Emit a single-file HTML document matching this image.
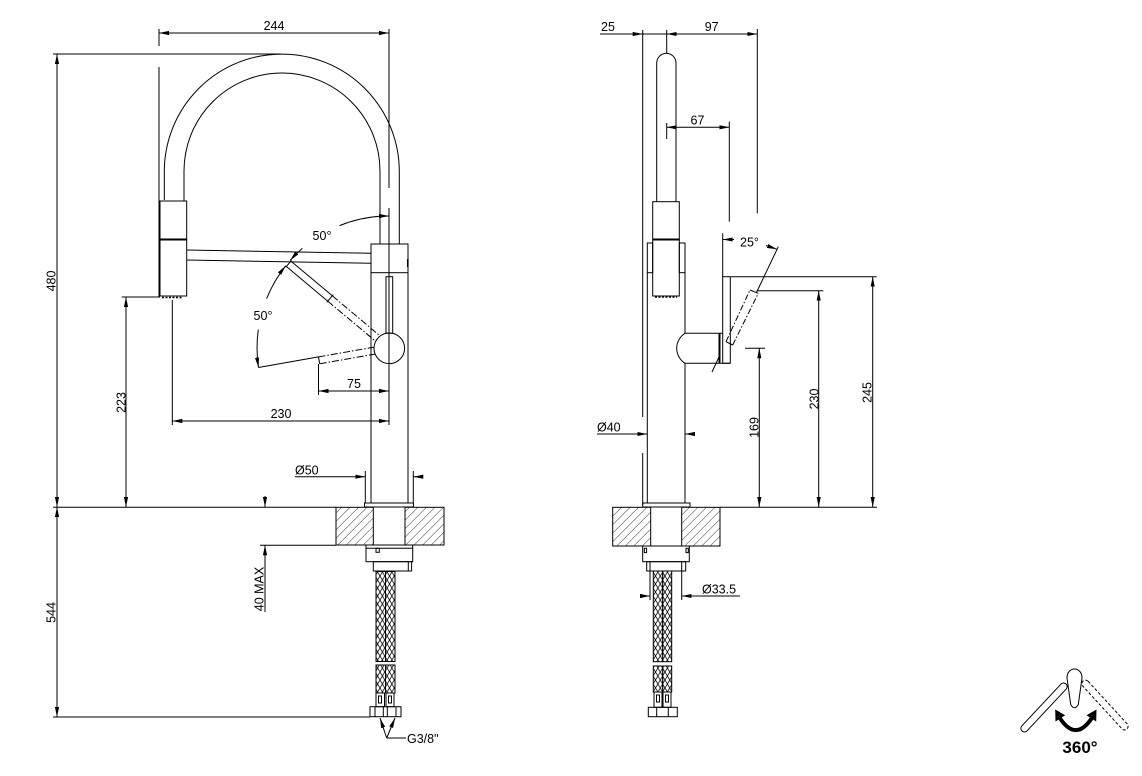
<!DOCTYPE html>
<html><head><meta charset="utf-8"><style>
html,body{margin:0;padding:0;background:#fff;}
svg{display:block}
text{font-family:"Liberation Sans",Arial,sans-serif;font-size:12.5px;fill:#000;stroke:none}
</style></head><body>
<svg width="1142" height="776" viewBox="0 0 1142 776" xmlns="http://www.w3.org/2000/svg">
<defs>
<marker id="a" markerUnits="userSpaceOnUse" markerWidth="11" markerHeight="5" refX="10" refY="2.5" orient="auto-start-reverse"><path d="M0,0.4 L10,2.5 L0,4.6 z" fill="#000" stroke="none"/></marker>
<pattern id="h" width="6" height="6" patternUnits="userSpaceOnUse" patternTransform="rotate(45)"><line x1="0" y1="0" x2="0" y2="6" stroke="#000" stroke-width="0.8"/></pattern>
<pattern id="x" width="4.75" height="8" patternUnits="userSpaceOnUse"><path d="M0,0 L4.75,8 M4.75,0 L0,8" stroke="#000" stroke-width="0.8" fill="none"/></pattern>
</defs>
<rect width="1142" height="776" fill="#fff"/>
<g stroke="#000" stroke-width="1" fill="none">
<!-- ===== LEFT VIEW ===== -->
<!-- 244 -->
<line x1="159" y1="33" x2="389" y2="33" marker-start="url(#a)" marker-end="url(#a)"/>
<line x1="159" y1="29" x2="159" y2="46"/>
<line x1="159" y1="67" x2="159" y2="297"/>
<line x1="389" y1="29" x2="389" y2="188"/>
<!-- 480 -->
<line x1="53" y1="54" x2="281" y2="54"/>
<line x1="57" y1="54" x2="57" y2="507" marker-start="url(#a)" marker-end="url(#a)"/>
<!-- arc spout -->
<path d="M164.3,200 L164.3,171.5 A117.5,117.5 0 0 1 399.3,171.5 L399.3,244"/>
<path d="M184,201 L184,171 A98,98 0 0 1 380,171 L380,244"/>
<!-- head -->
<rect x="160" y="201" width="26.7" height="38.5"/>
<rect x="160" y="240" width="26.7" height="56"/>
<line x1="160" y1="239.5" x2="186.7" y2="239.5" stroke-width="2"/>
<line x1="162" y1="297.5" x2="182" y2="297.5" stroke-width="1.5" stroke-dasharray="2 1.5"/>
<!-- horizontal arm -->
<line x1="186.7" y1="250" x2="371" y2="253.3"/>
<line x1="186.7" y1="260" x2="371" y2="263.3"/>
<!-- body -->
<rect x="371" y="244" width="37" height="28.7"/>
<line x1="371" y1="272.7" x2="371" y2="503"/>
<line x1="408" y1="272.7" x2="408" y2="503"/>
<rect x="407" y="259" width="1.6" height="8" fill="#000" stroke="none"/>
<line x1="365.3" y1="471" x2="365.3" y2="503"/>
<line x1="413.3" y1="471" x2="413.3" y2="503"/>
<rect x="364.5" y="503" width="49" height="4"/>
<rect x="386" y="276.7" width="6.7" height="56.5"/>
<line x1="389" y1="208" x2="389" y2="425"/>
<circle cx="389.3" cy="348.3" r="15.3"/>
<!-- upper lever -->
<line x1="290.9" y1="261.1" x2="332.3" y2="295.8"/>
<line x1="286.4" y1="266.5" x2="327.8" y2="301.2"/>
<line x1="332.3" y1="295.8" x2="379.8" y2="335.7" stroke-dasharray="7 2 1.5 2"/>
<line x1="327.8" y1="301.2" x2="375.3" y2="341.0" stroke-dasharray="7 2 1.5 2"/>
<line x1="291.5" y1="260.3" x2="285.8" y2="267.2"/>
<line x1="333.2" y1="294.7" x2="326.8" y2="302.3"/>
<!-- lower lever -->
<line x1="318.5" y1="356.9" x2="373.6" y2="347.2" stroke-dasharray="7 2 1.5 2"/>
<line x1="319.7" y1="363.8" x2="374.8" y2="354.1" stroke-dasharray="7 2 1.5 2"/>
<line x1="318.5" y1="356.9" x2="319.7" y2="363.8"/>
<line x1="258.4" y1="367.5" x2="318.5" y2="356.9"/>
<!-- angle arcs -->
<path d="M339.6,225.6 A132,132 0 0 1 389,216" marker-end="url(#a)"/>
<path d="M302.4,248.4 A132,132 0 0 0 290.1,260.5" marker-end="url(#a)"/>
<path d="M266.6,298.6 A132,132 0 0 1 285.7,265.8" marker-end="url(#a)"/>
<path d="M258.3,329.6 A132,132 0 0 0 258.5,367.5" marker-end="url(#a)"/>
<!-- 75 -->
<line x1="318.5" y1="364" x2="318.5" y2="395"/>
<line x1="318.5" y1="391" x2="389" y2="391" marker-start="url(#a)" marker-end="url(#a)"/>
<!-- 230 -->
<line x1="172.3" y1="300" x2="172.3" y2="425"/>
<line x1="172.3" y1="421" x2="389" y2="421" marker-start="url(#a)" marker-end="url(#a)"/>
<!-- 223 -->
<line x1="121.7" y1="297" x2="160" y2="297"/>
<line x1="126" y1="297" x2="126" y2="507" marker-start="url(#a)" marker-end="url(#a)"/>
<!-- floor -->
<line x1="53" y1="507.3" x2="336" y2="507.3"/>
<!-- Ø50 -->
<line x1="295" y1="476.7" x2="365.3" y2="476.7" marker-end="url(#a)"/>
<line x1="423" y1="476.7" x2="413.3" y2="476.7" marker-end="url(#a)"/>
<!-- 40 MAX -->
<line x1="265" y1="496" x2="265" y2="507" marker-end="url(#a)"/>
<line x1="265" y1="612" x2="265" y2="545.3" marker-end="url(#a)"/>
<line x1="260" y1="545.3" x2="336" y2="545.3"/>
<!-- 544 -->
<line x1="57" y1="507" x2="57" y2="717" marker-start="url(#a)" marker-end="url(#a)"/>
<line x1="53" y1="717" x2="370" y2="717"/>
<!-- counter -->
<rect x="336" y="507.3" width="37.3" height="37.7" fill="url(#h)"/>
<rect x="405" y="507.3" width="39" height="37.7" fill="url(#h)"/>
<line x1="373.3" y1="545" x2="405" y2="545"/>
<!-- nut -->
<rect x="366" y="545" width="46.7" height="16.7"/>
<line x1="366" y1="548.3" x2="412.7" y2="548.3"/>
<rect x="376" y="548.3" width="3.3" height="4"/>
<rect x="373.3" y="561.7" width="38.3" height="9.3"/>
<line x1="408.3" y1="562" x2="408.3" y2="571"/>
<!-- hoses -->
<rect x="376" y="571.5" width="9.5" height="90" fill="url(#x)"/>
<rect x="385.5" y="571.5" width="9.5" height="90" fill="url(#x)"/>
<rect x="376" y="665" width="9.5" height="28" fill="url(#x)"/>
<rect x="385.5" y="665" width="9.5" height="28" fill="url(#x)"/>
<rect x="376" y="693" width="8.5" height="13.7"/>
<rect x="386" y="693" width="8" height="13.7"/>
<rect x="378.5" y="696" width="3" height="7"/>
<rect x="388.5" y="696" width="3" height="7"/>
<rect x="370" y="706.7" width="31" height="10"/>
<line x1="375" y1="706.7" x2="375" y2="716.7"/>
<line x1="383.3" y1="706.7" x2="383.3" y2="716.7"/>
<line x1="387.3" y1="706.7" x2="387.3" y2="716.7"/>
<line x1="396" y1="706.7" x2="396" y2="716.7"/>
<!-- G3/8 -->
<line x1="386.7" y1="738" x2="380" y2="718" marker-end="url(#a)"/>
<line x1="386.7" y1="738" x2="395" y2="718" marker-end="url(#a)"/>
<line x1="386.7" y1="738" x2="406" y2="738"/>

<!-- ===== RIGHT VIEW ===== -->
<line x1="600" y1="34" x2="757.3" y2="34"/>
<line x1="632" y1="34" x2="642.7" y2="34" marker-end="url(#a)"/>
<line x1="677" y1="34" x2="666.7" y2="34" marker-end="url(#a)"/>
<line x1="747" y1="34" x2="757.3" y2="34" marker-end="url(#a)"/>
<line x1="642.7" y1="30" x2="642.7" y2="417"/>
<line x1="642.7" y1="453" x2="642.7" y2="505"/>
<line x1="666.7" y1="30" x2="666.7" y2="53"/>
<line x1="757.3" y1="29" x2="757.3" y2="213.3"/>
<!-- 67 -->
<line x1="666.7" y1="127.3" x2="729.3" y2="127.3" marker-start="url(#a)" marker-end="url(#a)"/>
<line x1="666.7" y1="123" x2="666.7" y2="139"/>
<line x1="729.3" y1="121.7" x2="729.3" y2="221.7"/>
<!-- spout -->
<path d="M656.7,201.7 L656.7,63 A9.65,9.65 0 0 1 676,63 L676,201.7"/>
<rect x="652.7" y="201.7" width="26.6" height="38"/>
<rect x="652.7" y="240" width="26.6" height="56"/>
<line x1="652.7" y1="239.5" x2="679.3" y2="239.5" stroke-width="2"/>
<line x1="655" y1="297" x2="677" y2="297" stroke-width="1.5" stroke-dasharray="2 1.5"/>
<rect x="647.3" y="243" width="5.4" height="29.7"/>
<rect x="679.3" y="243" width="5.7" height="29.7"/>
<line x1="647.3" y1="272.7" x2="647.3" y2="503"/>
<line x1="685" y1="272.7" x2="685" y2="333.3"/>
<line x1="685" y1="363.3" x2="685" y2="503"/>
<rect x="642.7" y="503" width="47.3" height="4"/>
<!-- Ø40 -->
<line x1="597" y1="434" x2="647.3" y2="434" marker-end="url(#a)"/>
<line x1="695" y1="434" x2="685" y2="434" marker-end="url(#a)"/>
<!-- handle -->
<path d="M722.7,333.3 L685,333.3 A17.7,17.7 0 0 0 685,363.3 L730.3,363.3" fill="#fff"/>
<line x1="719.5" y1="333.3" x2="719.5" y2="363.3" stroke-width="2"/>
<rect x="722.7" y="276.7" width="7.6" height="86.6"/>
<line x1="726" y1="341.7" x2="750" y2="290" stroke-dasharray="6 2 1.5 2"/>
<line x1="732.7" y1="345" x2="758.3" y2="293.3" stroke-dasharray="6 2 1.5 2"/>
<line x1="750" y1="290" x2="758.3" y2="293.3"/>
<line x1="726" y1="341.7" x2="732.7" y2="345"/>
<line x1="712" y1="372" x2="719" y2="357"/>
<line x1="756.7" y1="292" x2="778.3" y2="246.7"/>
<line x1="722.7" y1="233.3" x2="722.7" y2="276.7"/>
<line x1="734" y1="239.5" x2="722.7" y2="239.5" marker-end="url(#a)"/>
<line x1="766" y1="245.5" x2="777" y2="249.3" marker-end="url(#a)"/>
<!-- 245 / 230 / 169 -->
<line x1="731" y1="276.7" x2="876.7" y2="276.7"/>
<line x1="872.7" y1="276.7" x2="872.7" y2="507" marker-start="url(#a)" marker-end="url(#a)"/>
<line x1="756.7" y1="290.7" x2="823.3" y2="290.7"/>
<line x1="818.7" y1="290.7" x2="818.7" y2="507" marker-start="url(#a)" marker-end="url(#a)"/>
<line x1="745" y1="348.3" x2="765" y2="348.3"/>
<line x1="759.3" y1="348.3" x2="759.3" y2="507" marker-start="url(#a)" marker-end="url(#a)"/>
<line x1="720" y1="507.3" x2="877" y2="507.3"/>
<!-- counter -->
<rect x="612.7" y="507.3" width="38" height="38.7" fill="url(#h)"/>
<rect x="681.7" y="507.3" width="38.3" height="38.7" fill="url(#h)"/>
<line x1="650.7" y1="546" x2="681.7" y2="546"/>
<rect x="642.7" y="546" width="46.6" height="15.7"/>
<rect x="644.3" y="548.3" width="2.3" height="4.3"/>
<rect x="686" y="548.3" width="2.3" height="4.3"/>
<rect x="646.7" y="561.7" width="39" height="9.3"/>
<line x1="650" y1="561.7" x2="650" y2="571"/>
<line x1="681.7" y1="561.7" x2="681.7" y2="571"/>
<rect x="653.3" y="571" width="9.4" height="90.7" fill="url(#x)"/>
<rect x="662.7" y="571" width="9" height="90.7" fill="url(#x)"/>
<rect x="653.3" y="666" width="9.4" height="26" fill="url(#x)"/>
<rect x="662.7" y="666" width="9" height="26" fill="url(#x)"/>
<rect x="654" y="692" width="8" height="15.3"/>
<rect x="663" y="692" width="8" height="15.3"/>
<rect x="656.5" y="695" width="3" height="7"/>
<rect x="665.5" y="695" width="3" height="7"/>
<rect x="648.3" y="707.3" width="29" height="9.4"/>
<line x1="656.7" y1="707.3" x2="656.7" y2="716.7"/>
<line x1="668.3" y1="707.3" x2="668.3" y2="716.7"/>
<!-- Ø33.5 -->
<line x1="650" y1="571" x2="650" y2="600"/>
<line x1="681.7" y1="571" x2="681.7" y2="600"/>
<line x1="640" y1="596" x2="650" y2="596" marker-end="url(#a)"/>
<line x1="740" y1="596" x2="681.7" y2="596" marker-end="url(#a)"/>

<!-- ===== 360 icon ===== -->
<rect x="-32.5" y="-3.6" width="65" height="7.2" rx="3.6" transform="translate(1105,705) rotate(47.5)" stroke-dasharray="3 2"/>
<rect x="-32.2" y="-3.6" width="64.4" height="7.2" rx="3.6" fill="#fff" transform="translate(1044,707.5) rotate(-46.9)"/>
<path d="M1067,678 C1067,666 1082,666 1082,678 L1078.3,704.5 Q1074.5,711 1070.7,704.5 Z" fill="#fff"/>
<path d="M1060,718.3 Q1075.8,742 1091.7,718.3" stroke-width="4"/>
<polygon points="1055.2,709.5 1065.2,715.3 1055.5,721.5" fill="#000" stroke="none"/>
<polygon points="1096.5,709.5 1086.5,715.3 1096.2,721.5" fill="#000" stroke="none"/>
</g>

<!-- TEXT -->
<text x="274" y="30" text-anchor="middle">244</text>
<text transform="translate(55.5,281) rotate(-90)" text-anchor="middle">480</text>
<text x="322" y="240" text-anchor="middle">50°</text>
<text x="263" y="320" text-anchor="middle">50°</text>
<text x="354" y="388" text-anchor="middle">75</text>
<text x="281" y="418" text-anchor="middle">230</text>
<text transform="translate(125.5,402.5) rotate(-90)" text-anchor="middle">223</text>
<text x="295" y="474.5">Ø50</text>
<text transform="translate(263.5,589) rotate(-90)" text-anchor="middle">40 MAX</text>
<text transform="translate(55.5,612.5) rotate(-90)" text-anchor="middle">544</text>
<text x="407" y="743">G3/8"</text>
<text x="608" y="31" text-anchor="middle">25</text>
<text x="711.7" y="31" text-anchor="middle">97</text>
<text x="697.5" y="124.5" text-anchor="middle">67</text>
<text x="740" y="246.5">25°</text>
<text x="597" y="431.5">Ø40</text>
<text transform="translate(758.5,427.5) rotate(-90)" text-anchor="middle">169</text>
<text transform="translate(818.3,399) rotate(-90)" text-anchor="middle">230</text>
<text transform="translate(871.5,392.5) rotate(-90)" text-anchor="middle">245</text>
<text x="702" y="593.5">Ø33.5</text>
<text x="1080" y="753" text-anchor="middle" style="font-size:17px;font-weight:bold">360°</text>
</svg>
</body></html>
